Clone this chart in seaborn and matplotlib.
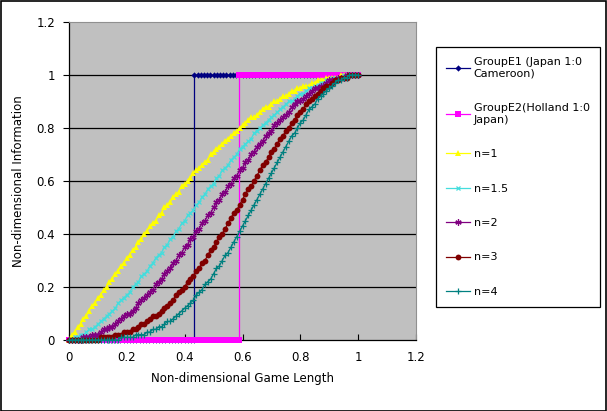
import numpy as np
import pandas as pd
import matplotlib
matplotlib.use('Agg')
import matplotlib.pyplot as plt
import seaborn as sns
from matplotlib.patches import Rectangle

# x positions of the model curves (non-dimensional game length, step 0.01)
game_length = np.linspace(0, 1, 101)

# model curves
info_n1 = [0, .02, .03, .05, .06, .08, .09, .11, .13, .14, .16,
           .17, .19, .20, .22, .23, .25, .26, .28, .29, .31,
           .32, .34, .35, .37, .38, .40, .41, .43, .44, .45,
           .47, .48, .50, .51, .52, .54, .55, .56, .58, .59,
           .60, .61, .63, .64, .65, .66, .67, .68, .70, .71,
           .72, .73, .74, .75, .76, .77, .78, .79, .80, .81,
           .82, .83, .84, .84, .85, .86, .87, .88, .88, .89,
           .90, .90, .91, .92, .92, .93, .94, .94, .95, .95,
           .96, .96, .96, .97, .97, .98, .98, .98, .99, .99,
           .99, .99, .99, 1.0, 1.0, 1.0, 1.0, 1.0, 1.0, 1.0]
info_n15 = [0, 0, .01, .01, .02, .02, .03, .04, .04, .05, .06,
            .07, .08, .09, .10, .11, .12, .14, .15, .16, .17,
            .18, .20, .21, .22, .24, .25, .26, .28, .29, .31,
            .32, .33, .35, .36, .38, .39, .41, .42, .44, .45,
            .47, .48, .49, .51, .52, .54, .55, .57, .58, .59,
            .61, .62, .64, .65, .66, .68, .69, .70, .72, .73,
            .74, .75, .76, .78, .79, .80, .81, .82, .83, .84,
            .85, .86, .87, .88, .89, .90, .90, .91, .92, .93,
            .93, .94, .95, .95, .96, .96, .97, .97, .98, .98,
            .99, .99, .99, .99, 1.0, 1.0, 1.0, 1.0, 1.0, 1.0]
info_n2 = [0, 0, 0, 0, 0, .01, .01, .01, .02, .02, .02,
           .03, .04, .04, .05, .05, .06, .07, .08, .09, .10,
           .10, .11, .12, .14, .15, .16, .17, .18, .19, .21,
           .22, .23, .25, .26, .27, .29, .30, .32, .33, .35,
           .36, .38, .39, .41, .42, .44, .45, .47, .48, .50,
           .52, .53, .55, .56, .58, .59, .61, .62, .64, .65,
           .67, .68, .70, .71, .73, .74, .75, .77, .78, .79,
           .81, .82, .83, .84, .85, .86, .88, .89, .90, .90,
           .91, .92, .93, .94, .95, .95, .96, .96, .97, .98,
           .98, .98, .99, .99, .99, 1.0, 1.0, 1.0, 1.0, 1.0]
info_n3 = [0, 0, 0, 0, 0, 0, 0, 0, 0, 0, 0,
           .01, .01, .01, .01, .01, .02, .02, .02, .03, .03,
           .03, .04, .04, .05, .06, .06, .07, .08, .09, .09,
           .10, .11, .12, .13, .14, .15, .17, .18, .19, .20,
           .22, .23, .24, .26, .27, .29, .30, .32, .34, .35,
           .37, .39, .40, .42, .44, .46, .48, .49, .51, .53,
           .55, .57, .58, .60, .62, .64, .66, .67, .69, .71,
           .72, .74, .76, .77, .79, .80, .82, .83, .85, .86,
           .87, .89, .90, .91, .92, .93, .94, .95, .96, .96,
           .97, .98, .98, .99, .99, .99, 1.0, 1.0, 1.0, 1.0]
info_n4 = [0, 0, 0, 0, 0, 0, 0, 0, 0, 0, 0,
           0, 0, 0, 0, 0, 0, 0, .01, .01, .01,
           .01, .01, .02, .02, .02, .02, .03, .03, .04, .04,
           .05, .05, .06, .07, .07, .08, .09, .10, .11, .12,
           .13, .14, .15, .17, .18, .19, .21, .22, .23, .25,
           .27, .28, .30, .32, .33, .35, .37, .39, .41, .43,
           .45, .47, .49, .51, .53, .55, .57, .59, .61, .63,
           .65, .67, .69, .71, .73, .75, .77, .78, .80, .82,
           .83, .85, .87, .88, .89, .91, .92, .93, .94, .95,
           .96, .97, .98, .98, .99, .99, 1.0, 1.0, 1.0, 1.0]

# real games: a single goal decides the information
match_minutes = 90
goal_minute_e1 = 39   # Japan 1:0 Cameroon
goal_minute_e2 = 53   # Holland 1:0 Japan


def game_frame(goal):
    minutes = np.arange(0, match_minutes + 1)
    before = minutes[minutes <= goal]
    after = minutes[minutes >= goal]
    return pd.DataFrame({
        'length': np.concatenate([before, after]) / match_minutes,
        'info': [0.0] * len(before) + [1.0] * len(after),
    })


game_e1 = game_frame(goal_minute_e1)
game_e2 = game_frame(goal_minute_e2)

plt.rcParams['font.family'] = ['DejaVu Sans']
fig = plt.figure(figsize=(6.07, 4.11), dpi=100)
ax = fig.add_axes([69 / 607, 1 - 340 / 411, 347 / 607, 318 / 411])
ax.set_facecolor('#C0C0C0')

lw = 0.9
series = [
    (game_e1['length'], game_e1['info'], '#000080', 'D', 3.2, 0, 'GroupE1 (Japan 1:0\nCameroon)'),
    (game_e2['length'], game_e2['info'], '#FF00FF', 's', 3.8, 0, 'GroupE2(Holland 1:0\nJapan)'),
    (game_length, info_n1, '#FFFF00', '^', 5, 0, 'n=1'),
    (game_length, info_n15, '#44DDDD', 'x', 3.5, 0.9, 'n=1.5'),
    (game_length, info_n2, '#800080', (6, 2, 0), 4.5, 0.9, 'n=2'),
    (game_length, info_n3, '#800000', 'o', 4.2, 0, 'n=3'),
    (game_length, info_n4, '#008080', '+', 4.5, 0.9, 'n=4'),
]
for x, y, color, marker, ms, mew, label in series:
    sns.lineplot(x=x, y=y, ax=ax, color=color, marker=marker, markersize=ms,
                 markeredgewidth=mew, markeredgecolor=color, markerfacecolor=color,
                 lw=lw, estimator=None, sort=False, label=label, clip_on=False, zorder=3)

ax.set_xlim(0, 1.2)
ax.set_ylim(0, 1.2)
ticks = [0, 0.2, 0.4, 0.6, 0.8, 1, 1.2]
ax.set_xticks(ticks)
ax.set_yticks(ticks)
ax.set_xticklabels([f'{t:g}' for t in ticks], fontsize=8.5)
ax.set_yticklabels([f'{t:g}' for t in ticks], fontsize=8.5)
ax.tick_params(axis='x', direction='in', length=4, width=0.8, pad=8)
ax.tick_params(axis='y', direction='out', length=4, width=0.8, pad=6)
for t in ticks[1:-1]:
    ax.axhline(t, color='black', lw=0.9, zorder=0.5)

for side in ['left', 'bottom']:
    ax.spines[side].set_color('black')
    ax.spines[side].set_linewidth(0.9)
for side in ['top', 'right']:
    ax.spines[side].set_color('#909090')
    ax.spines[side].set_linewidth(0.8)

ax.set_xlabel('Non-dimensional Game Length', fontsize=8.5, labelpad=6)
ax.set_ylabel('Non-dimensional Information', fontsize=8.5, labelpad=8)

leg = ax.legend(loc='upper left', bbox_to_anchor=(436 / 607, 1 - 47 / 411),
                bbox_transform=fig.transFigure, fontsize=8, frameon=True, fancybox=False,
                edgecolor='black', framealpha=1, borderaxespad=0, labelspacing=2.2,
                handlelength=2.2, handletextpad=0.3, borderpad=0.9)
leg.get_frame().set_linewidth(0.9)

fig.patches.append(Rectangle((0.001, 0.001), 0.997, 0.997, transform=fig.transFigure,
                             fill=False, edgecolor='black', lw=1.2))

fig.savefig('out.png', dpi=100)
